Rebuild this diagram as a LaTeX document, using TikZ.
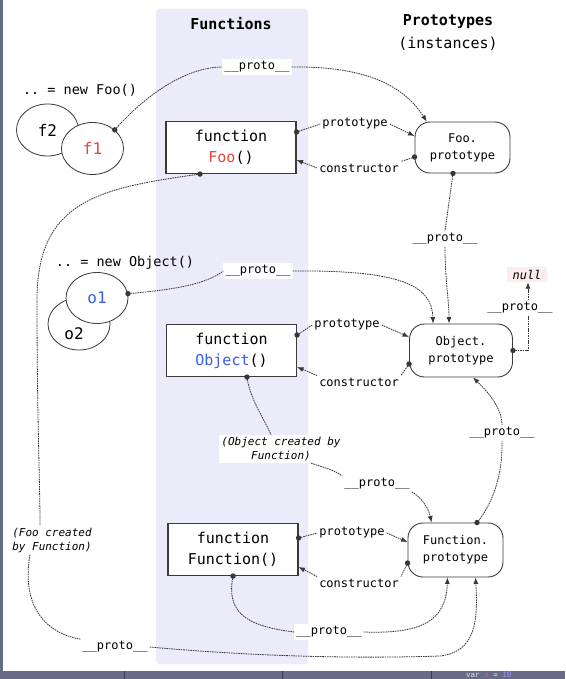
\documentclass[tikz,border=0pt]{standalone}
\usepackage{fontspec}
\setmonofont{DejaVu Sans Mono}
\usetikzlibrary{arrows.meta,shapes.geometric}
\definecolor{lav}{HTML}{EBEBFA}
\definecolor{stripc}{HTML}{686B86}
\definecolor{stripl}{HTML}{34374F}
\definecolor{linkc}{HTML}{383838}
\definecolor{boxc}{HTML}{3A3A3A}
\definecolor{fooRed}{HTML}{E8453C}
\definecolor{objBlue}{HTML}{3A5FE5}
\definecolor{nullbg}{HTML}{FBEDED}
\begin{document}
\begin{tikzpicture}[x=1pt,y=-1pt,
  title/.style={font=\ttfamily\bfseries\fontsize{15}{18}\selectfont, inner sep=0},
  sub/.style={font=\ttfamily\fontsize{15}{18}\selectfont, inner sep=0},
  newl/.style={font=\ttfamily\fontsize{13.5}{16}\selectfont, inner sep=0},
  objtext/.style={font=\ttfamily\fontsize{16}{18}\selectfont, inner sep=0},
  obj/.style={ellipse, draw=boxc, line width=0.8pt, fill=white, minimum width=62pt, minimum height=52pt, inner sep=0, font=\ttfamily\fontsize{16}{18}\selectfont},
  fnbox/.style={draw=boxc, line width=1.1pt, fill=white, minimum width=130pt, minimum height=52pt, inner sep=0, align=center, font=\ttfamily\fontsize{15}{21}\selectfont},
  pbox/.style={draw=boxc, line width=0.9pt, fill=white, rounded corners=15pt, minimum width=97pt, minimum height=53pt, inner sep=0, align=center, font=\ttfamily\fontsize{12}{17}\selectfont},
  lbl/.style={fill=white, inner sep=2pt, font=\ttfamily\fontsize{12}{14}\selectfont},
  note/.style={fill=white, inner sep=2pt, font=\ttfamily\itshape\fontsize{11}{14}\selectfont},
  nullbox/.style={fill=nullbg, inner sep=0, minimum width=40pt, minimum height=15pt, font=\ttfamily\itshape\fontsize{12}{14}\selectfont},
  link/.style={draw=linkc, line width=0.8pt, dash pattern=on 1.6pt off 0.8pt},
  arr/.style={-{Latex[length=6.5pt,width=5pt]}},
  dotc/.style={fill=linkc}]
\useasboundingbox (0,0) rectangle (565,679);
\fill[white] (0,0) rectangle (565,679);
% column
\fill[lav, rounded corners=3pt] (156,9) rectangle (308,664);
% frame strips
\fill[stripc] (0,0) rectangle (3,679);
\fill[stripc] (0,671) rectangle (565,679);
\foreach \sx in {124,282,431} \draw[stripl, line width=0.8pt] (\sx,671) -- (\sx,679);
\node[font=\ttfamily\fontsize{7.5}{8}\selectfont, text=white!85!stripc, anchor=west, inner sep=0] (vara) at (466,675) {var \textcolor{violet!60!white}{a} = \textcolor{blue!40!white}{10}};
% titles
\node[title] (tFun) at (231,24) {Functions};
\node[title] (tProt) at (448,22) {Prototypes};
\node[sub] (tInst) at (448,44) {(instances)};
% instances
\node[newl] (nFoo) at (80,90) {.. = new Foo()};
\node[obj] (f2) at (47.5,130) {f2};
\node[obj] (f1) at (92.5,148.5) {\textcolor{fooRed}{f1}};
\node[newl] (nObj) at (125,263) {.. = new Object()};
\node[obj] (o2) at (79,324) {};
\node[obj, minimum height=51pt] (o1) at (97,298) {\textcolor{objBlue}{o1}};
\node[objtext] (o2t) at (74,334) {o2};
% functions
\node[fnbox] (Foo) at (231,147.5) {function\\\textcolor{fooRed}{Foo}()};
\node[fnbox] (Obj) at (231.5,350.5) {function\\\textcolor{objBlue}{Object}()};
\node[fnbox] (Fun) at (233,549.5) {function\\Function()};
% prototypes
\node[pbox, minimum width=95pt, minimum height=51pt] (FooP) at (462.5,147.5) {Foo.\\prototype};
\node[pbox, minimum width=103pt] (ObjP) at (461,350.5) {Object.\\prototype};
\node[pbox, minimum width=95pt, minimum height=54pt] (FunP) at (455.5,550) {Function.\\prototype};
\node[nullbox] (null) at (527,274.5) {null};
% labels
\node[lbl] (pFoo) at (257,67) {\_\_proto\_\_};
\node[lbl] (ptFoo) at (355,124) {prototype};
\node[lbl] (ctFoo) at (359,168) {constructor};
\node[lbl] (pFooP) at (445,239) {\_\_proto\_\_};
\node[lbl] (pO1) at (258,271) {\_\_proto\_\_};
\node[lbl] (pNull) at (520,308) {\_\_proto\_\_};
\node[lbl] (ptObj) at (347,325) {prototype};
\node[lbl] (ctObj) at (359,382) {constructor};
\node[note, align=center] (ocf) at (281,449) {(Object created by\\Function)};
\node[lbl] (pObjF) at (377,484) {\_\_proto\_\_};
\node[lbl] (pFP) at (502,433) {\_\_proto\_\_};
\node[lbl] (ptFun) at (352,533) {prototype};
\node[lbl] (ctFun) at (359,583) {constructor};
\node[lbl] (pFun) at (329,632) {\_\_proto\_\_};
\node[note, align=left] (fcf) at (52,540) {(Foo created\\by Function)};
\node[lbl] (pFoo2) at (115,647) {\_\_proto\_\_};
% anchor points
\coordinate (f1d) at (f1.40);
\coordinate (FooP-tl) at (FooP.144);
\coordinate (Foo-pt) at ([yshift=15.5pt]Foo.east);
\coordinate (Foo-ct) at ([yshift=-12.5pt]Foo.east);
\coordinate (FooP-pt) at ([yshift=11.5pt]FooP.west);
\coordinate (FooP-ct) at ([yshift=-9.5pt]FooP.west);
\coordinate (FooP-b) at ([xshift=-9.5pt]FooP.south);
\coordinate (Foo-b) at ([xshift=-31pt]Foo.south);
\coordinate (o1d) at (o1.8);
\coordinate (ObjP-t1) at ([xshift=-28pt]ObjP.north);
\coordinate (ObjP-t2) at ([xshift=-12pt]ObjP.north);
\coordinate (ObjP-r) at (ObjP.east);
\coordinate (ObjP-b) at ([xshift=12pt]ObjP.south);
\coordinate (Obj-pt) at ([yshift=15.5pt]Obj.east);
\coordinate (Obj-ct) at ([yshift=-16.5pt]Obj.east);
\coordinate (ObjP-pt) at ([yshift=13.5pt]ObjP.west);
\coordinate (ObjP-ct) at ([yshift=-13.5pt]ObjP.west);
\coordinate (Obj-b) at ([xshift=15.5pt]Obj.south);
\coordinate (Fun-pt) at ([yshift=11.5pt]Fun.east);
\coordinate (Fun-ct) at ([yshift=-17.5pt]Fun.east);
\coordinate (FunP-pt) at ([yshift=8pt]FunP.west);
\coordinate (FunP-ct) at ([yshift=-13pt]FunP.west);
\coordinate (FunP-t1) at ([xshift=-24pt]FunP.north);
\coordinate (FunP-t2) at ([xshift=21.5pt]FunP.north);
\coordinate (FunP-b1) at ([xshift=-8pt]FunP.south);
\coordinate (FunP-b2) at ([xshift=20pt]FunP.south);
\coordinate (Fun-b) at (Fun.south);
% f1 -> Foo.prototype
\draw[link] (f1d) .. controls (150,90) and (190,67) .. (pFoo.west);
\draw[link,arr] (pFoo.east) .. controls (370,66) and (405,88) .. (FooP-tl);
% Foo <-> Foo.prototype
\draw[link] (Foo-pt) -- (ptFoo.west);
\draw[link,arr] (ptFoo.east) -- (FooP-pt);
\draw[link] (FooP-ct) -- (ctFoo.north east);
\draw[link,arr] (ctFoo.west) -- (Foo-ct);
% Foo.prototype -> Object.prototype
\draw[link] (FooP-b) -- (pFooP.north);
\draw[link,arr] (pFooP.south) .. controls (445,280) and (449,300) .. (ObjP-t2);
% o1 -> Object.prototype
\draw[link] (o1d) .. controls (170,290) and (205,285) .. (pO1.west);
\draw[link,arr] (pO1.east) .. controls (400,270) and (432,285) .. (ObjP-t1);
% Object.prototype -> null
\draw[link] (ObjP-r) -| ([xshift=8pt]pNull.south);
\draw[link,arr] ([xshift=8pt]pNull.north) -- ([xshift=1pt]null.south);
% Object <-> Object.prototype
\draw[link] (Obj-pt) -- (ptObj.west);
\draw[link,arr] (ptObj.east) -- (ObjP-pt);
\draw[link] (ObjP-ct) -- (ctObj.north east);
\draw[link,arr] (ctObj.north west) -- (Obj-ct);
% Object -> Function.prototype
\draw[link] (Obj-b) .. controls (250,400) and (265,420) .. ([xshift=-10pt]ocf.north);
\draw[link] ([xshift=30pt]ocf.south) .. controls (325,468) and (335,470) .. (pObjF.north west);
\draw[link,arr] (pObjF.south east) .. controls (418,495) and (428,505) .. (FunP-t1);
% Function.prototype -> Object.prototype
\draw[link] (FunP-t2) .. controls (492,505) and (503,475) .. (pFP.south);
\draw[link,arr] (pFP.north) .. controls (502,408) and (488,392) .. (ObjP-b);
% Function <-> Function.prototype
\draw[link] (Fun-pt) -- (ptFun.west);
\draw[link,arr] (ptFun.east) -- (FunP-pt);
\draw[link] (FunP-ct) -- (ctFun.north east);
\draw[link,arr] (ctFun.north west) -- (Fun-ct);
% Function -> Function.prototype
\draw[link] (Fun-b) .. controls (226,612) and (245,626) .. (pFun.west);
\draw[link,arr] (pFun.east) .. controls (420,634) and (446,622) .. (FunP-b1);
% Foo -> Function.prototype
\draw[link] (Foo-b) .. controls (100,188) and (37,200) .. (37,300) .. controls (37,420) and (40,480) .. ([xshift=-12pt]fcf.north);
\draw[link] ([xshift=-22pt]fcf.south) .. controls (22,600) and (40,632) .. (pFoo2.north west);
\draw[link,arr] (pFoo2.east) .. controls (250,656) and (350,659) .. (440,656) .. controls (476,652) and (478,620) .. (FunP-b2);
% dots
\foreach \p in {f1d,Foo-pt,FooP-ct,FooP-b,Foo-b,o1d,ObjP-r,Obj-pt,ObjP-ct,Obj-b,FunP-t2,Fun-pt,FunP-ct,Fun-b}
  \fill[dotc] (\p) circle (2.7pt);
\end{tikzpicture}
\end{document}
